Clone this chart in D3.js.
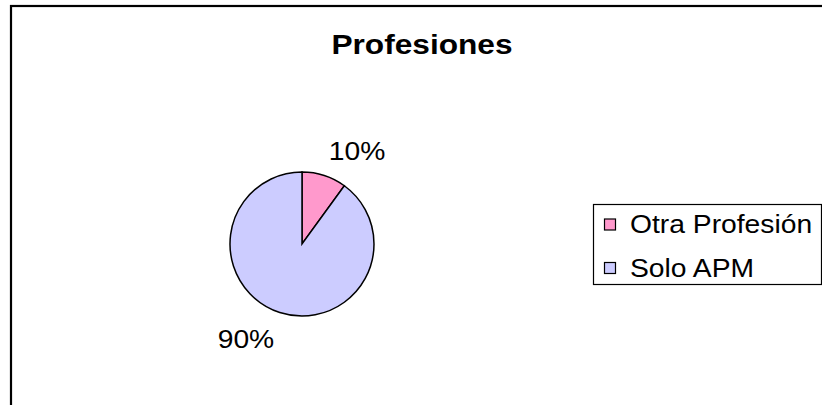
<!DOCTYPE html>
<html>
<head>
<meta charset="utf-8">
<script src="https://cdn.jsdelivr.net/npm/d3@7"></script>
<style>
  body { margin: 0; background: #fff; }
  text { font-family: "Liberation Sans", Arial, sans-serif; fill: #000; }
</style>
</head>
<body>
<div id="chart"></div>
<script>
var svgWidth = 822;
var svgHeight = 405;

// data
var categories = ["Otra Profesión", "Solo APM"];
var values = [10, 90];
var colors = ["#FF99CC", "#CCCCFF"];
var title = "Profesiones";

// the original text is drawn a bit wider than Arial
var stretch = 1.13;

var svg = d3.select("#chart")
  .append("svg")
  .attr("width", svgWidth)
  .attr("height", svgHeight);

// widen a text selection horizontally
function widen(sel) {
  sel.each(function() {
    var w = this.getComputedTextLength();
    d3.select(this)
      .attr("textLength", w * stretch)
      .attr("lengthAdjust", "spacingAndGlyphs");
  });
}

// chart area border (runs off the right and bottom edge)
svg.append("rect")
  .attr("x", 11)
  .attr("y", 6)
  .attr("width", 830)
  .attr("height", 430)
  .attr("fill", "#fff")
  .attr("stroke", "#000")
  .attr("stroke-width", 2.2);

// title
svg.append("text")
  .attr("x", 422)
  .attr("y", 54)
  .attr("text-anchor", "middle")
  .style("font-size", "28px")
  .style("font-weight", "bold")
  .text(title)
  .call(widen);

// pie
var cx = 302, cy = 244, radius = 72;
var pie = d3.pie().sort(null).value(d => d.value);
var arc = d3.arc().innerRadius(0).outerRadius(radius);

var data = categories.map((c, i) => ({ name: c, value: values[i], color: colors[i] }));
var total = d3.sum(values);

var pieGroup = svg.append("g")
  .attr("transform", `translate(${cx}, ${cy})`);

var arcs = pie(data);

pieGroup.selectAll("path")
  .data(arcs)
  .enter()
  .append("path")
  .attr("d", arc)
  .attr("fill", d => d.data.color)
  .attr("stroke", "#000")
  .attr("stroke-width", 1.5);

// percentage labels outside the slices
var labelArc = d3.arc().innerRadius(radius + 22).outerRadius(radius + 22);
pieGroup.selectAll("text.pct")
  .data(arcs)
  .enter()
  .append("text")
  .attr("class", "pct")
  .attr("transform", function(d) {
    var p = labelArc.centroid(d);
    return `translate(${p[0] + (d.index === 0 ? 26 : -27)}, ${p[1] + (d.index === 0 ? -3 : 6)})`;
  })
  .attr("text-anchor", "middle")
  .attr("dy", "0.35em")
  .style("font-size", "25px")
  .text(d => Math.round(d.data.value / total * 100) + "%")
  .call(widen);

// legend
var legend = svg.append("g")
  .attr("transform", "translate(593, 204)");

legend.append("rect")
  .attr("x", 0.5)
  .attr("y", 0.5)
  .attr("width", 228)
  .attr("height", 80)
  .attr("fill", "#fff")
  .attr("stroke", "#000")
  .attr("stroke-width", 1.2);

var items = legend.selectAll("g.item")
  .data(data)
  .enter()
  .append("g")
  .attr("class", "item")
  .attr("transform", (d, i) => `translate(0, ${i * 43.5})`);

items.append("rect")
  .attr("x", 11.5)
  .attr("y", 15)
  .attr("width", 11)
  .attr("height", 11)
  .attr("fill", d => d.color)
  .attr("stroke", "#000")
  .attr("stroke-width", 1.2);

items.append("text")
  .attr("x", 37)
  .attr("y", 29)
  .style("font-size", "25px")
  .text(d => d.name)
  .call(widen);
</script>
</body>
</html>
